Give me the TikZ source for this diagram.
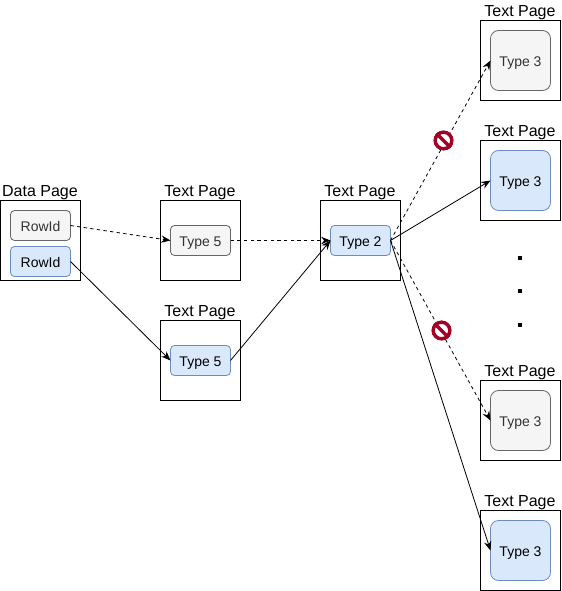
\documentclass[tikz,border=0pt]{standalone}
\usepackage{fontspec}
\setmainfont{Liberation Sans}
\usetikzlibrary{arrows.meta}
\definecolor{gfill}{HTML}{F5F5F5}
\definecolor{gline}{HTML}{666666}
\definecolor{gtext}{HTML}{333333}
\definecolor{bfill}{HTML}{DAE8FC}
\definecolor{bline}{HTML}{6C8EBF}
\definecolor{nored}{HTML}{A20025}
\tikzset{
  x=0.75pt,y=-0.75pt,
  page/.style={draw=black,line width=0.75pt,minimum width=60pt,minimum height=60pt,inner sep=0pt,outer sep=0pt,anchor=north west},
  pagelabel/.style={font=\fontsize{12}{14}\selectfont,inner sep=0pt,text height=9pt,text depth=2.8pt,anchor=south,xshift=-0.4pt},
  rec/.style={draw,rounded corners=3pt,line width=0.6pt,minimum width=45pt,inner sep=0pt,outer sep=0pt,anchor=north west,font=\fontsize{10.5}{12}\selectfont,text height=8.5pt,text depth=0pt},
  short/.style={rec,minimum height=22.5pt},
  tall/.style={rec,minimum height=45pt,rounded corners=6pt},
  grey/.style={fill=gfill,draw=gline,text=gtext},
  blue/.style={fill=bfill,draw=bline,text=black},
  link/.style={draw=black,line width=0.6pt,-{Stealth[length=7pt,width=5.5pt]}},
  dlink/.style={link,dash pattern=on 2.5pt off 2.5pt},
  dot/.style={fill=black,draw=none,minimum size=3pt,inner sep=0pt},
  noentry/.style={circle,draw=nored,line width=2.6pt,fill=white,minimum size=12.5pt,inner sep=0pt},
  nobar/.style={draw=nored,line width=2.6pt},
}
\begin{document}
\begin{tikzpicture}
\useasboundingbox (-0.5,-0.5) rectangle (560.5,590.5);
% pages
\node[page] (dp) at (0,200) {};
\node[page] (t1) at (160,200) {};
\node[page] (t2) at (160,320) {};
\node[page] (t3) at (320,200) {};
\node[page] (r1) at (480,20) {};
\node[page] (r2) at (480,140) {};
\node[page] (r3) at (480,380) {};
\node[page] (r4) at (480,510) {};
% labels
\node[pagelabel] (ldp) at (dp.north) {Data Page};
\node[pagelabel] (lt1) at (t1.north) {Text Page};
\node[pagelabel] (lt2) at (t2.north) {Text Page};
\node[pagelabel] (lt3) at (t3.north) {Text Page};
\node[pagelabel] (lr1) at (r1.north) {Text Page};
\node[pagelabel] (lr2) at (r2.north) {Text Page};
\node[pagelabel] (lr3) at (r3.north) {Text Page};
\node[pagelabel] (lr4) at (r4.north) {Text Page};
% records
\node[short,grey] (a) at (10,210) {RowId};
\node[short,blue] (b) at (10,246) {RowId};
\node[short,grey] (c) at (170,225) {Type 5};
\node[short,blue] (d) at (170,345) {Type 5};
\node[short,blue] (e) at (330,225) {Type 2};
\node[tall,grey] (f) at (490,30) {Type 3};
\node[tall,blue] (g) at (490,150) {Type 3};
\node[tall,grey] (h) at (490,390) {Type 3};
\node[tall,blue] (i) at (490,520) {Type 3};
% connectors
\draw[dlink] (a.east) -- (c.west);
\draw[link] (b.east) -- (d.west);
\draw[dlink] (c.east) -- (e.west);
\draw[link] (d.east) -- (e.west);
\draw[dlink] (e.east) -- (f.west);
\draw[link] (e.east) -- (g.west);
\draw[dlink] (e.east) -- (h.west);
\draw[link] (e.east) -- (i.west);
% no-entry signs
\node[noentry] (n1) at (443,140) {};
\draw[nobar] (n1.135) -- (n1.-45);
\node[noentry] (n2) at (441,330) {};
\draw[nobar] (n2.135) -- (n2.-45);
% dots
\node[dot] (p1) at (519.5,257.5) {};
\node[dot] (p2) at (519.5,290.5) {};
\node[dot] (p3) at (519.5,324.5) {};
\end{tikzpicture}
\end{document}
